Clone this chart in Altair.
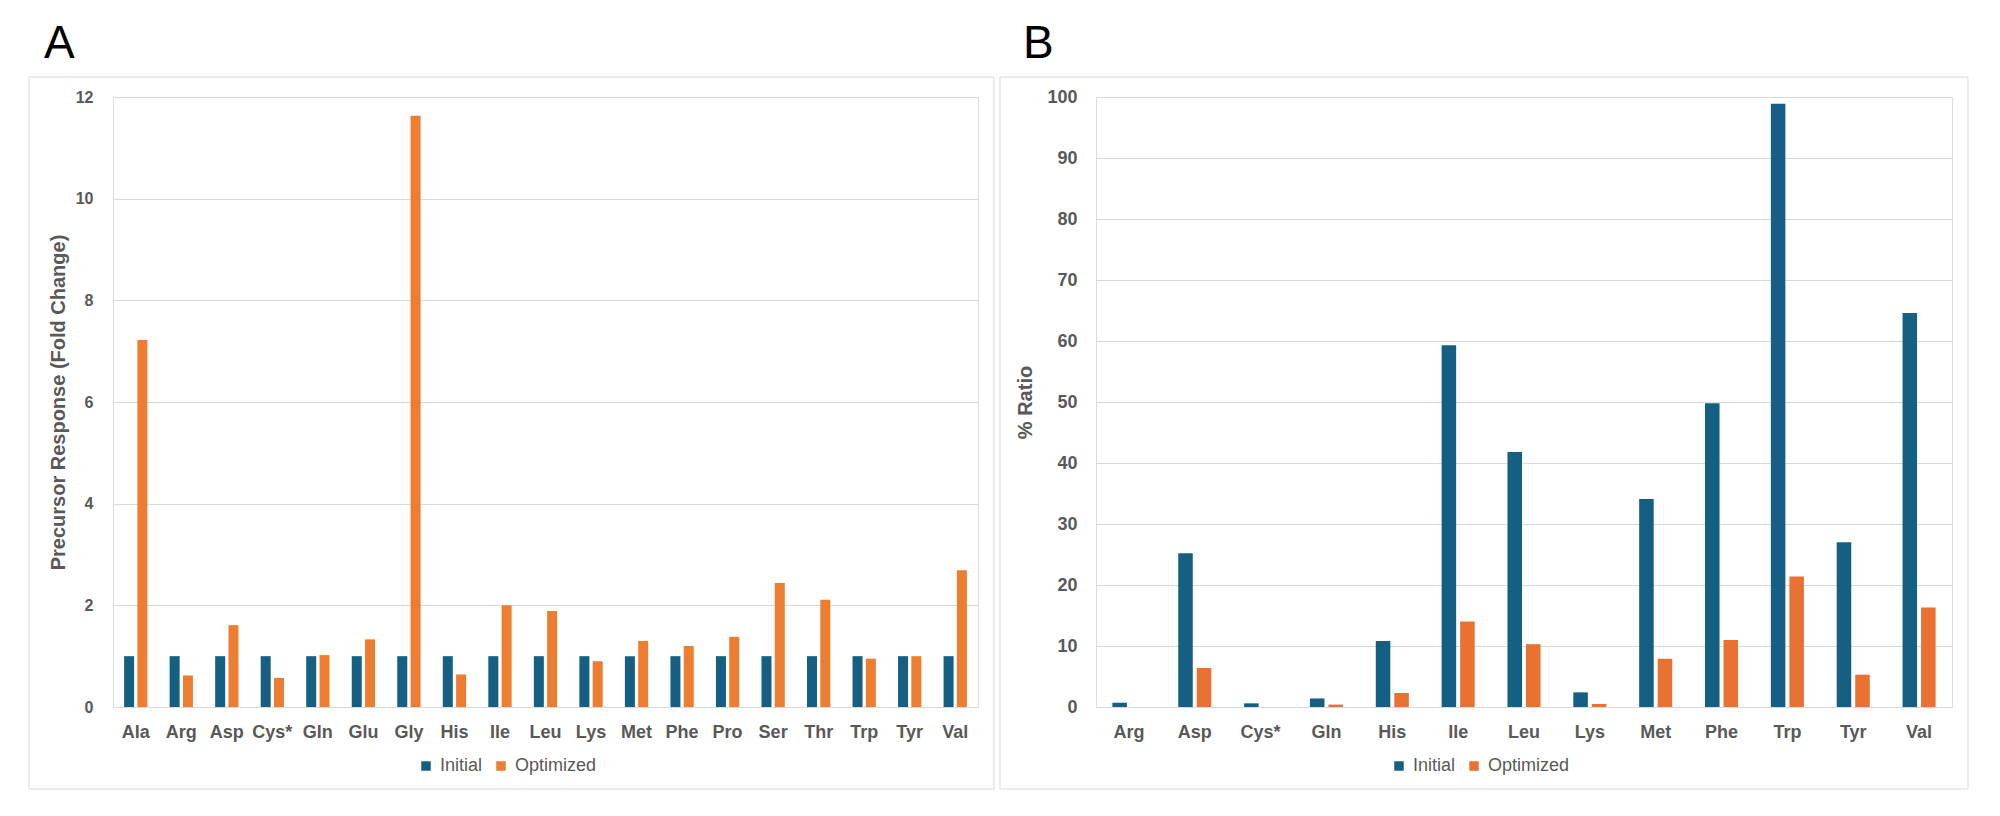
import altair as alt
import pandas as pd

# Panel A data
cats_a = ["Ala", "Arg", "Asp", "Cys*", "Gln", "Glu", "Gly", "His", "Ile", "Leu",
          "Lys", "Met", "Phe", "Pro", "Ser", "Thr", "Trp", "Tyr", "Val"]
initial_a = [1.0] * 19
optimized_a = [7.22, 0.62, 1.61, 0.57, 1.02, 1.33, 11.63, 0.64, 2.0, 1.89,
               0.90, 1.30, 1.20, 1.38, 2.44, 2.11, 0.95, 1.0, 2.69]

# Panel B data
cats_b = ["Arg", "Asp", "Cys*", "Gln", "His", "Ile", "Leu", "Lys", "Met", "Phe",
          "Trp", "Tyr", "Val"]
initial_b = [0.7, 25.2, 0.6, 1.4, 10.8, 59.3, 41.8, 2.4, 34.1, 49.8, 98.9, 27.0, 64.6]
optimized_b = [0.0, 6.4, 0.0, 0.4, 2.3, 14.0, 10.3, 0.5, 7.9, 11.0, 21.4, 5.3, 16.3]

series = ["Initial", "Optimized"]

GRAY = "#595959"
FONT = "Liberation Sans"


def long_df(cats, ini, opt):
    rows = []
    for c, a, b in zip(cats, ini, opt):
        rows.append({"aa": c, "series": "Initial", "value": a})
        rows.append({"aa": c, "series": "Optimized", "value": b})
    return pd.DataFrame(rows)


def panel(df, cats, ymax, ystep, ytitle, colors, letter, pw, ph,
          x_pi, off_pi, frame, leg_x, ylab_size, ylab_pad, ytitle_pad, title_dx):
    bars = alt.Chart(df).mark_bar().encode(
        x=alt.X("aa:N", sort=cats, title=None,
                scale=alt.Scale(paddingInner=x_pi, paddingOuter=x_pi / 2),
                axis=alt.Axis(labelAngle=0, ticks=False, domain=False,
                              labelPadding=16, labelFontSize=18,
                              labelFontWeight="bold", labelColor=GRAY,
                              labelFont=FONT)),
        xOffset=alt.XOffset("series:N", sort=series,
                            scale=alt.Scale(paddingInner=off_pi, paddingOuter=0)),
        y=alt.Y("value:Q", title=ytitle,
                scale=alt.Scale(domain=[0, ymax], nice=False, zero=True),
                axis=alt.Axis(values=list(range(0, ymax + 1, ystep)),
                              ticks=False, domain=False, grid=True,
                              gridColor="#d9d9d9", gridWidth=1,
                              labelPadding=ylab_pad, labelFontSize=ylab_size,
                              labelFontWeight="bold", labelColor=GRAY,
                              labelFont=FONT, titleFont=FONT,
                              titleFontSize=20, titleFontWeight="bold",
                              titleColor=GRAY, titlePadding=ytitle_pad)),
        color=alt.Color("series:N", sort=series,
                        scale=alt.Scale(domain=series, range=colors),
                        legend=alt.Legend(title=None, orient="none",
                                          direction="horizontal",
                                          legendX=leg_x, legendY=660,
                                          symbolType="square", symbolSize=90,
                                          symbolStrokeWidth=0,
                                          labelFontSize=18, labelColor=GRAY,
                                          labelFont=FONT, labelOffset=5,
                                          columnPadding=9, padding=0)),
    )
    box = alt.Chart(pd.DataFrame({"k": [0]})).mark_rect(
        fill=None, stroke="#d9d9d9", strokeWidth=1
    ).encode(
        x=alt.value(frame[0]), x2=alt.value(frame[1]),
        y=alt.value(frame[2]), y2=alt.value(frame[3]),
    )
    return alt.layer(box, bars).properties(
        width=pw, height=ph,
        title=alt.TitleParams(letter, anchor="start", frame="group",
                              dx=title_dx, offset=9, fontSize=46,
                              fontWeight="normal", font=FONT, color="#000000"),
    )


df_a = long_df(cats_a, initial_a, optimized_a)
df_b = long_df(cats_b, initial_b, optimized_b)

chart_a = panel(df_a, cats_a, 12, 2, "Precursor Response (Fold Change)",
                ["#156082", "#ED7D31"], "A", 865, 610,
                0.488, 0.248, (-84, 881, -20, 692), 304, 16, 20, 7, -69)
chart_b = panel(df_b, cats_b, 100, 10, "% Ratio",
                ["#156082", "#E97132"], "B", 856, 610,
                0.498, 0.216, (-96, 872, -20, 692), 294, 18, 19, 11, -73)

chart = alt.hconcat(chart_a, chart_b, spacing=4).resolve_scale(
    x="independent", y="independent", color="independent", xOffset="independent"
).resolve_legend(color="independent").properties(
    padding={"left": 20, "top": 12, "right": 5, "bottom": 5}
).configure_view(stroke=None).configure(background="white")

chart.save("out.html", embed_options={"renderer": "svg", "actions": False})
